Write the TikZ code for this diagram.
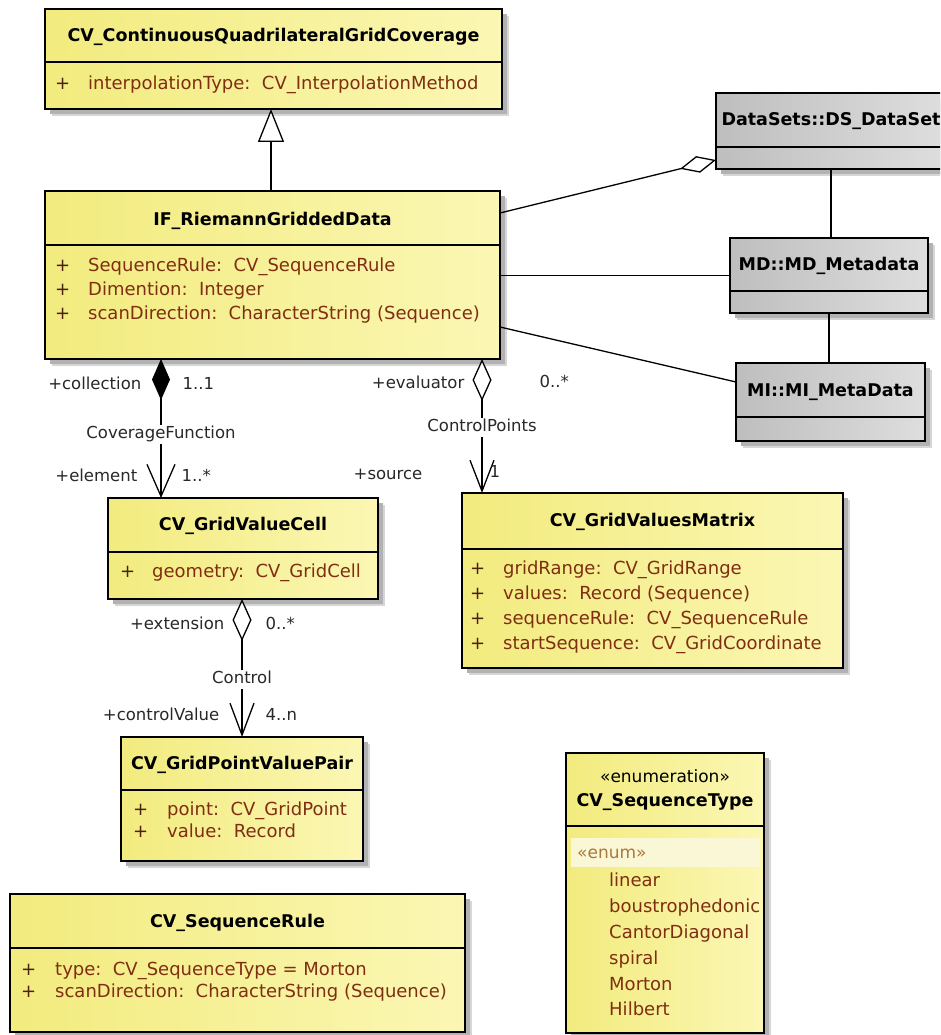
\documentclass[tikz,border=0pt]{standalone}
\usepackage{fontspec}
\setmainfont{DejaVu Sans}
\setsansfont{DejaVu Sans}
\usetikzlibrary{arrows.meta}

\definecolor{ylwL}{RGB}{242,235,126}
\definecolor{ylwR}{RGB}{251,247,180}
\definecolor{gryL}{RGB}{190,190,190}
\definecolor{gryR}{RGB}{222,222,222}
\definecolor{attrc}{RGB}{128,46,18}
\definecolor{plusc}{RGB}{75,32,12}
\definecolor{lblc}{RGB}{40,40,40}
\definecolor{enumc}{RGB}{170,120,60}
\definecolor{enumband}{RGB}{250,247,214}

\tikzset{
  ylw/.style={left color=ylwL,right color=ylwR},
  gry/.style={left color=gryL,right color=gryR},
  boxframe/.style={draw=black,line width=1.4pt,inner sep=0pt,outer sep=0pt},
  sepline/.style={line width=1.4pt},
  shadowA/.style={black!16},
  shadowB/.style={black!30},
  ttl/.style={font=\fontsize{17.5}{20}\selectfont\bfseries, text=black, inner sep=0pt, text height=13pt, text depth=4pt},
  attr/.style={font=\fontsize{18}{21}\selectfont, text=attrc, inner sep=0pt, anchor=west, text height=13pt, text depth=4pt},
  plus/.style={attr, text=plusc},
  lbl/.style={font=\fontsize{16.5}{19}\selectfont, text=lblc, inner sep=1.5pt, text height=12pt, text depth=4pt},
  conn/.style={line width=1.3pt, draw=black},
}

% class box: name, left, top, right, bottom, separator y, fill style
\newcommand\umlbox[7]{%
  \fill[shadowA] (#2+7,#3+7) rectangle (#4+7,#5+7);
  \fill[shadowB] (#2+5,#3+5) rectangle (#4+5,#5+5);
  \node[boxframe,#7,anchor=north west,minimum width=#4-#2,minimum height=#5-#3] (#1) at (#2,#3) {};
  \draw[sepline] (#2,#6) -- (#4,#6);
}
% attribute line: name, x of "+", x of text, y, text
\newcommand\umlattr[5]{%
  \node[plus] (#1-p) at (#2,#4) {+};
  \node[attr] (#1) at (#3,#4) {#5};
}

\begin{document}
\begin{tikzpicture}[x=1pt,y=-1pt]
\clip (0,0) rectangle (940,1035);
\fill[white] (0,0) rectangle (940,1035);

% ---------- classes ----------
\umlbox{cqg}{45}{9}{502}{109}{62}{ylw}
\node[ttl] (cqg-t) at (273.5,37) {CV\_ContinuousQuadrilateralGridCoverage};
\umlattr{cqg-a1}{55}{88}{85}{interpolationType:\ \ CV\_InterpolationMethod}

\umlbox{if}{45}{191}{500}{359}{245}{ylw}
\node[ttl] (if-t) at (272.5,221) {IF\_RiemannGriddedData};
\umlattr{if-a1}{55}{88}{267}{SequenceRule:\ \ CV\_SequenceRule}
\umlattr{if-a2}{55}{88}{291}{Dimention:\ \ Integer}
\umlattr{if-a3}{55}{88}{315}{scanDirection:\ \ CharacterString (Sequence)}

\umlbox{ds}{716}{93}{946}{169}{147}{gry}
\node[ttl] (ds-t) at (831,121) {DataSets::DS\_DataSet};

\umlbox{md}{730}{238}{928}{313}{291}{gry}
\node[ttl] (md-t) at (829,266) {MD::MD\_Metadata};

\umlbox{mi}{736}{363}{925}{441}{417}{gry}
\node[ttl] (mi-t) at (830.5,392) {MI::MI\_MetaData};

\umlbox{gvc}{108}{498}{378}{599}{552}{ylw}
\node[ttl] (gvc-t) at (243,526) {CV\_GridValueCell};
\umlattr{gvc-a1}{120}{152}{573}{geometry:\ \ CV\_GridCell}

\umlbox{gvm}{462}{493}{843}{668}{549}{ylw}
\node[ttl] (gvm-t) at (652.5,522) {CV\_GridValuesMatrix};
\umlattr{gvm-a1}{470}{503}{570}{gridRange:\ \ CV\_GridRange}
\umlattr{gvm-a2}{470}{503}{595}{values:\ \ Record (Sequence)}
\umlattr{gvm-a3}{470}{503}{620}{sequenceRule:\ \ CV\_SequenceRule}
\umlattr{gvm-a4}{470}{503}{645}{startSequence:\ \ CV\_GridCoordinate}

\umlbox{gpv}{121}{737}{363}{861}{790}{ylw}
\node[ttl] (gpv-t) at (242,765) {CV\_GridPointValuePair};
\umlattr{gpv-a1}{133}{167}{811}{point:\ \ CV\_GridPoint}
\umlattr{gpv-a2}{133}{167}{833}{value:\ \ Record}

\umlbox{sr}{10}{894}{465}{1032}{948}{ylw}
\node[ttl] (sr-t) at (237.5,923) {CV\_SequenceRule};
\umlattr{sr-a1}{21}{55}{971}{type:\ \ CV\_SequenceType = Morton}
\umlattr{sr-a2}{21}{55}{993}{scanDirection:\ \ CharacterString (Sequence)}

\umlbox{st}{566}{753}{764}{1033}{826}{ylw}
\node[font=\fontsize{17}{20}\selectfont, inner sep=0pt, text height=13pt, text depth=4pt] (st-s) at (665,778) {«enumeration»};
\node[ttl] (st-t) at (665,802) {CV\_SequenceType};
\begin{scope}
  \clip (566,826) rectangle (763,1032);
  \fill[enumband] (571,838) rectangle (760,867);
  \node[attr, text=enumc, font=\fontsize{17}{20}\selectfont] (st-e) at (577,854) {«enum»};
  \node[attr] (st-l1) at (609,882) {linear};
  \node[attr] (st-l2) at (609,908) {boustrophedonic};
  \node[attr] (st-l3) at (609,934) {CantorDiagonal};
  \node[attr] (st-l4) at (609,960) {spiral};
  \node[attr] (st-l5) at (609,986) {Morton};
  \node[attr] (st-l6) at (609,1011) {Hilbert};
\end{scope}
\draw[line width=1.4pt] (st.north east) -- (st.south east);

% ---------- relations ----------
% generalization
\draw[conn, -{Triangle[length=33pt,width=26pt,fill=white]}]
  ([xshift=226pt]if.north west) -- ([xshift=226pt]cqg.south west);

% aggregation towards the data set
\draw[conn, -{Diamond[length=37pt,width=17pt,fill=white]}]
  ([yshift=-22pt]if.north east) -- ([yshift=-67pt]ds.north west);

% associations with the metadata classes
\draw[conn] (md.west -| if.east) -- (md.west);
\draw[conn] ([yshift=-136pt]if.north east) -- ([yshift=-19pt]mi.north west);
\draw[conn] (ds.south) -- (ds.south |- md.north);
\draw[conn] (md.south) -- (md.south |- mi.north);

% CoverageFunction composition
\draw[conn, {Diamond[length=41pt,width=18pt]}-{Straight Barb[length=32pt,width=28pt]}]
  ([xshift=116pt]if.south west) -- node[lbl, fill=white, pos=0.54] (cf-l) {CoverageFunction}
  ([xshift=53pt]gvc.north west);
\node[lbl, anchor=east] (cf-r1) at (143,385) {+collection};
\node[lbl, anchor=west] (cf-m1) at (181,385) {1..1};
\node[lbl, anchor=east] (cf-r2) at (139,477) {+element};
\node[lbl, anchor=west] (cf-m2) at (180,477) {1..*};

% ControlPoints aggregation
\draw[conn, {Diamond[length=42pt,width=19pt,fill=white]}-{Straight Barb[length=31pt,width=24pt]}]
  ([xshift=437pt]if.south west) -- node[lbl, fill=white, pos=0.51] (cp-l) {ControlPoints}
  ([xshift=20pt]gvm.north west);
\node[lbl, anchor=east] (cp-r1) at (466,384) {+evaluator};
\node[lbl, anchor=west] (cp-m1) at (538,383) {0..*};
\node[lbl, anchor=east] (cp-r2) at (424,475) {+source};
\node[lbl, anchor=west] (cp-m2) at (488,473) {1};

% Control aggregation
\draw[conn, {Diamond[length=42pt,width=19pt,fill=white]}-{Straight Barb[length=32pt,width=24pt]}]
  ([xshift=134pt]gvc.south west) -- node[lbl, fill=white, pos=0.58] (ct-l) {Control}
  ([xshift=121pt]gpv.north west);
\node[lbl, anchor=east] (ct-r1) at (226,625) {+extension};
\node[lbl, anchor=west] (ct-m1) at (264,625) {0..*};
\node[lbl, anchor=east] (ct-r2) at (221,716) {+controlValue};
\node[lbl, anchor=west] (ct-m2) at (264,716) {4..n};
\end{tikzpicture}
\end{document}
